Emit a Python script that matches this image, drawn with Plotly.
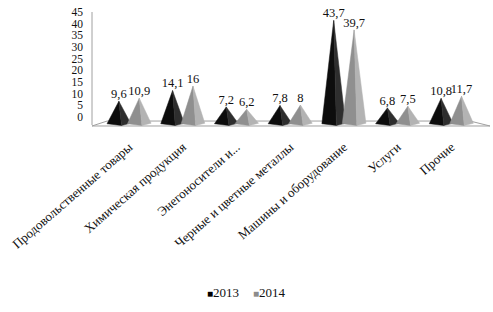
import plotly.graph_objects as go

categories = ["Продовольственные товары", "Химическая продукция", "Энегоносители и...",
              "Черные и цветные металлы", "Машины и оборудование", "Услуги", "Прочие"]
values_2013 = [9.6, 14.1, 7.2, 7.8, 43.7, 6.8, 10.8]
values_2014 = [10.9, 16, 6.2, 8, 39.7, 7.5, 11.7]
series_names = ["2013", "2014"]
y_ticks = [0, 5, 10, 15, 20, 25, 30, 35, 40, 45]

FONT = "Liberation Serif"
fig = go.Figure()

# pyramid geometry (in category units)
offsets = [-0.19, 0.19]
half_w = 0.22
face_colors = [("#0d0d0d", "#2e2e2e"), ("#8f8f8f", "#b3b3b3")]
legend_colors = ["#000000", "#8c8c8c"]

for s, vals in enumerate([values_2013, values_2014]):
    for i, v in enumerate(vals):
        cx = i + offsets[s]
        left_c, right_c = face_colors[s]
        fig.add_trace(go.Scatter(
            x=[cx, cx - half_w, cx + 0.05, cx], y=[v, 0.1, -0.6, v],
            fill="toself", fillcolor=left_c, mode="lines",
            line=dict(width=0.5, color=left_c), showlegend=False, hoverinfo="skip"))
        fig.add_trace(go.Scatter(
            x=[cx, cx + 0.05, cx + half_w, cx], y=[v, -0.6, 0.3, v],
            fill="toself", fillcolor=right_c, mode="lines",
            line=dict(width=0.5, color=right_c), showlegend=False, hoverinfo="skip"))
    fig.add_trace(go.Scatter(
        x=[i + offsets[s] for i in range(len(vals))], y=vals,
        mode="text", text=[str(v).replace(".", ",") for v in vals],
        textposition="top center", textfont=dict(family=FONT, size=12.5, color="#111"),
        showlegend=False, hoverinfo="skip", cliponaxis=False))

# visible tick axis (back wall scale)
fig.add_trace(go.Scatter(x=[None], y=[None], yaxis="y2", showlegend=False, hoverinfo="skip"))

# floor and axis line
fig.add_shape(type="path", xref="paper", yref="paper",
              path="M 0,0.017 L 0.038,0.059 L 0.95,0.059 L 1.0,0.017 Z",
              fillcolor="white", line=dict(color="#a0a0a0", width=1), layer="below")
fig.add_shape(type="line", xref="paper", yref="paper", x0=0, x1=0, y0=0.025, y1=0.983,
              line=dict(color="#a0a0a0", width=1), layer="below")

# legend as text entries
legend_x = [0.284, 0.40]
for s, name in enumerate(series_names):
    fig.add_annotation(
        xref="paper", yref="paper", x=legend_x[s], y=-1.39, xanchor="left", yanchor="middle",
        text=f"<span style='color:{legend_colors[s]};font-size:10px'>■</span>{name}",
        showarrow=False, font=dict(family=FONT, size=13, color="#111"))

fig.update_layout(
    width=493, height=312,
    margin=dict(l=92, r=3, t=10, b=184),
    paper_bgcolor="white", plot_bgcolor="white",
    font=dict(family=FONT, size=13, color="#111"),
    xaxis=dict(range=[-0.69, 6.72], tickmode="array", tickvals=list(range(len(categories))),
               ticktext=categories, tickangle=-41, showgrid=False, zeroline=False,
               showline=False, ticks="", ticklabelstandoff=8,
               tickfont=dict(family=FONT, size=13, color="#111")),
    yaxis=dict(range=[-1.69, 48.1], visible=False, showgrid=False, zeroline=False),
    yaxis2=dict(range=[-4.71, 45.86], overlaying="y", side="left", tickmode="array",
                tickvals=y_ticks, showgrid=False, zeroline=False, showline=False,
                ticks="", ticklabelstandoff=8,
                tickfont=dict(family=FONT, size=11.5, color="#111")),
    showlegend=False,
)

fig.write_html("out.html")
